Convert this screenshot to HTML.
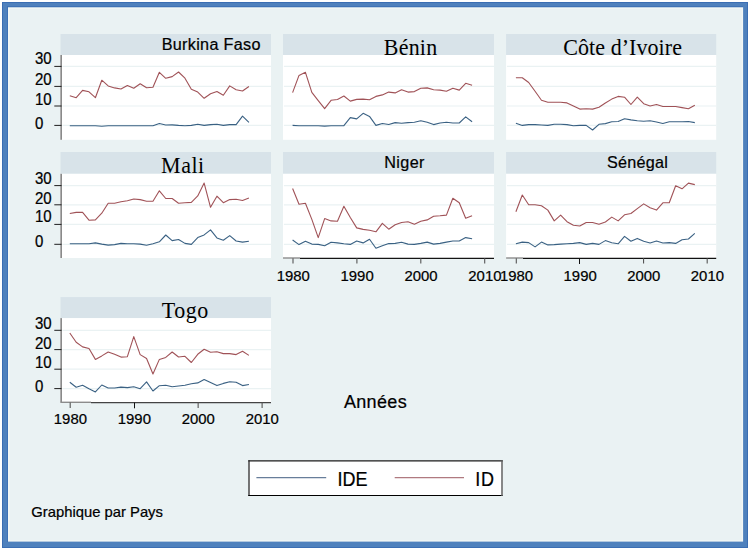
<!DOCTYPE html>
<html><head><meta charset="utf-8"><title>Graphique par Pays</title>
<style>
html,body{margin:0;padding:0;background:#fff;}
body{width:750px;height:550px;overflow:hidden;position:relative;}
svg{position:absolute;left:0;top:0;display:block;}
text{fill:#000;stroke:#000;stroke-width:0.22px;}
.ts,.sn,.dg{font-family:"Liberation Sans",sans-serif;}
.tr{font-family:"Liberation Serif",serif;stroke:none;}
</style></head>
<body>
<svg width="750" height="550" viewBox="0 0 750 550">
<rect x="0" y="0" width="750" height="550" fill="#fff"/>
<rect x="2" y="2" width="746" height="546" fill="#4f81bd"/>
<rect x="2.5" y="2.5" width="745" height="545" fill="none" stroke="#3b6eb3" stroke-width="1"/>
<line x1="7.5" x2="7.5" y1="6" y2="542" stroke="#3f72b6" stroke-width="1"/>
<line x1="7" x2="743" y1="6.6" y2="6.6" stroke="#3f72b6" stroke-width="1"/>
<rect x="8" y="7.3" width="735.1" height="534.3" fill="#f3f7f6"/>
<rect x="9.6" y="8.8" width="732.2" height="531.6" fill="#eaf2f3"/>
<rect x="60.5" y="34" width="210.5" height="21" fill="#d8e3e9"/>
<rect x="60.5" y="55" width="210.5" height="84.8" fill="#fff"/>
<line x1="62.5" x2="271" y1="66.4" y2="66.4" stroke="#eaf2f3" stroke-width="1.2"/>
<line x1="62.5" x2="271" y1="86.4" y2="86.4" stroke="#eaf2f3" stroke-width="1.2"/>
<line x1="62.5" x2="271" y1="106" y2="106" stroke="#eaf2f3" stroke-width="1.2"/>
<line x1="62.5" x2="271" y1="125.4" y2="125.4" stroke="#eaf2f3" stroke-width="1.2"/>
<rect x="283" y="34" width="211" height="21" fill="#d8e3e9"/>
<rect x="283" y="55" width="211" height="84.8" fill="#fff"/>
<line x1="283.9" x2="494" y1="66.4" y2="66.4" stroke="#eaf2f3" stroke-width="1.2"/>
<line x1="283.9" x2="494" y1="86.4" y2="86.4" stroke="#eaf2f3" stroke-width="1.2"/>
<line x1="283.9" x2="494" y1="106" y2="106" stroke="#eaf2f3" stroke-width="1.2"/>
<line x1="283.9" x2="494" y1="125.4" y2="125.4" stroke="#eaf2f3" stroke-width="1.2"/>
<rect x="506.1" y="34" width="210.1" height="21" fill="#d8e3e9"/>
<rect x="506.1" y="55" width="210.1" height="84.8" fill="#fff"/>
<line x1="507" x2="716.2" y1="66.4" y2="66.4" stroke="#eaf2f3" stroke-width="1.2"/>
<line x1="507" x2="716.2" y1="86.4" y2="86.4" stroke="#eaf2f3" stroke-width="1.2"/>
<line x1="507" x2="716.2" y1="106" y2="106" stroke="#eaf2f3" stroke-width="1.2"/>
<line x1="507" x2="716.2" y1="125.4" y2="125.4" stroke="#eaf2f3" stroke-width="1.2"/>
<rect x="60.5" y="152" width="210.5" height="21.8" fill="#d8e3e9"/>
<rect x="60.5" y="173.8" width="210.5" height="84.2" fill="#fff"/>
<line x1="62.5" x2="271" y1="185.6" y2="185.6" stroke="#eaf2f3" stroke-width="1.2"/>
<line x1="62.5" x2="271" y1="204.8" y2="204.8" stroke="#eaf2f3" stroke-width="1.2"/>
<line x1="62.5" x2="271" y1="224.4" y2="224.4" stroke="#eaf2f3" stroke-width="1.2"/>
<line x1="62.5" x2="271" y1="244.3" y2="244.3" stroke="#eaf2f3" stroke-width="1.2"/>
<rect x="283" y="152" width="211" height="21.8" fill="#d8e3e9"/>
<rect x="283" y="173.8" width="211" height="84.2" fill="#fff"/>
<line x1="283.9" x2="494" y1="185.6" y2="185.6" stroke="#eaf2f3" stroke-width="1.2"/>
<line x1="283.9" x2="494" y1="204.8" y2="204.8" stroke="#eaf2f3" stroke-width="1.2"/>
<line x1="283.9" x2="494" y1="224.4" y2="224.4" stroke="#eaf2f3" stroke-width="1.2"/>
<line x1="283.9" x2="494" y1="244.3" y2="244.3" stroke="#eaf2f3" stroke-width="1.2"/>
<rect x="506.1" y="152" width="210.1" height="21.8" fill="#d8e3e9"/>
<rect x="506.1" y="173.8" width="210.1" height="84.2" fill="#fff"/>
<line x1="507" x2="716.2" y1="185.6" y2="185.6" stroke="#eaf2f3" stroke-width="1.2"/>
<line x1="507" x2="716.2" y1="204.8" y2="204.8" stroke="#eaf2f3" stroke-width="1.2"/>
<line x1="507" x2="716.2" y1="224.4" y2="224.4" stroke="#eaf2f3" stroke-width="1.2"/>
<line x1="507" x2="716.2" y1="244.3" y2="244.3" stroke="#eaf2f3" stroke-width="1.2"/>
<rect x="60.5" y="297.1" width="210.5" height="21" fill="#d8e3e9"/>
<rect x="60.5" y="318.1" width="210.5" height="84.4" fill="#fff"/>
<line x1="62.5" x2="271" y1="330.3" y2="330.3" stroke="#eaf2f3" stroke-width="1.2"/>
<line x1="62.5" x2="271" y1="349.6" y2="349.6" stroke="#eaf2f3" stroke-width="1.2"/>
<line x1="62.5" x2="271" y1="369.2" y2="369.2" stroke="#eaf2f3" stroke-width="1.2"/>
<line x1="62.5" x2="271" y1="388.6" y2="388.6" stroke="#eaf2f3" stroke-width="1.2"/>
<polyline points="69.8,125.7 76.2,125.7 82.59,125.7 88.99,125.7 95.39,125.7 101.78,126.3 108.18,125.7 114.58,125.7 120.98,125.7 127.37,125.7 133.77,125.7 140.17,125.7 146.56,125.7 152.96,125.7 159.36,123.5 165.75,125 172.15,124.9 178.55,125.4 184.95,125.7 191.34,125.4 197.74,124.3 204.14,125.4 210.53,124.6 216.93,124.3 223.33,125.4 229.73,124.6 236.12,124.6 242.52,116.1 248.92,122.3" fill="none" stroke="#1a476f" stroke-width="1.1" stroke-linejoin="round" stroke-opacity="0.86"/>
<polyline points="69.8,95.7 76.2,97.7 82.59,90.4 88.99,91.8 95.39,97.7 101.78,80.2 108.18,85.9 114.58,87.9 120.98,89 127.37,85.5 133.77,88.2 140.17,83.8 146.56,87.8 152.96,87.2 159.36,72.3 165.75,78.3 172.15,76.6 178.55,72 184.95,78.2 191.34,89.3 197.74,92.1 204.14,98.3 210.53,93.7 216.93,91.5 223.33,95.2 229.73,85.9 236.12,89.8 242.52,91 248.92,86.5" fill="none" stroke="#90353b" stroke-width="1.1" stroke-linejoin="round" stroke-opacity="0.86"/>
<text class="ts" transform="translate(161.7 50.2) scale(1 0.99)" style="font-size:16.2px;letter-spacing:0.3px;">Burkina Faso</text>
<line x1="60.5" x2="60.5" y1="55" y2="139.8" stroke="#b4b4b4" stroke-width="1"/>
<line x1="61.4" x2="61.4" y1="55" y2="139.8" stroke="#7d7d7d" stroke-width="1"/>
<line x1="54.3" x2="61.5" y1="66.4" y2="66.4" stroke="#1e1e1e" stroke-width="1"/>
<text class="dg" transform="translate(34.9 64.4) scale(1 1.04)" style="font-size:15.0px;">30</text>
<line x1="54.3" x2="61.5" y1="86.4" y2="86.4" stroke="#1e1e1e" stroke-width="1"/>
<text class="dg" transform="translate(34.9 85.2) scale(1 1.04)" style="font-size:15.0px;">20</text>
<line x1="54.3" x2="61.5" y1="106" y2="106" stroke="#1e1e1e" stroke-width="1"/>
<text class="dg" transform="translate(34.9 104.7) scale(1 1.04)" style="font-size:15.0px;">10</text>
<line x1="54.3" x2="61.5" y1="125.4" y2="125.4" stroke="#1e1e1e" stroke-width="1"/>
<text class="dg" transform="translate(34.9 129.2) scale(1 1.04)" style="font-size:15.0px;">0</text>
<polyline points="292.6,125.4 299.01,125.7 305.42,125.7 311.83,125.7 318.24,125.7 324.65,126.1 331.06,125.7 337.47,125.7 343.88,125.7 350.29,117.6 356.7,118.9 363.11,113.3 369.52,116.4 375.93,125.4 382.34,123.5 388.75,124.5 395.16,122.6 401.57,123.3 407.98,122.6 414.39,122.3 420.8,120.7 427.21,122.3 433.62,124.6 440.03,123 446.44,122.3 452.85,123 459.26,123 465.67,116.9 472.08,121.8" fill="none" stroke="#1a476f" stroke-width="1.1" stroke-linejoin="round" stroke-opacity="0.86"/>
<polyline points="292.6,92.6 299.01,75.4 305.42,72.3 311.83,92.4 318.24,100.6 324.65,108.7 331.06,100.3 337.47,99.5 343.88,96 350.29,101.1 356.7,99.4 363.11,99.1 369.52,99.8 375.93,96.4 382.34,94.9 388.75,92.1 395.16,92.9 401.57,89.8 407.98,92.1 414.39,91.6 420.8,88.2 427.21,87.9 433.62,89.8 440.03,90.1 446.44,91.3 452.85,88.2 459.26,90.1 465.67,83.3 472.08,85.2" fill="none" stroke="#90353b" stroke-width="1.1" stroke-linejoin="round" stroke-opacity="0.86"/>
<text class="tr" transform="translate(383.8 54.5) scale(1 1.057)" style="font-size:22px;letter-spacing:0.2px;">Bénin</text>
<polyline points="515.9,123.3 522.29,125.4 528.68,124.6 535.07,124.6 541.46,125 547.85,125.4 554.24,124.3 560.63,124.3 567.02,124.6 573.41,125.7 579.8,125.4 586.19,125.4 592.58,130 598.97,124.3 605.36,123.6 611.75,121.8 618.14,121.5 624.53,118.7 630.92,119.9 637.31,120.7 643.7,121.2 650.09,120.7 656.48,122 662.87,123.5 669.26,121.8 675.65,121.8 682.04,121.8 688.43,121.5 694.82,122.6" fill="none" stroke="#1a476f" stroke-width="1.1" stroke-linejoin="round" stroke-opacity="0.86"/>
<polyline points="515.9,77.7 522.29,77.7 528.68,82.5 535.07,91.3 541.46,100.2 547.85,102.2 554.24,102.2 560.63,102.2 567.02,102.9 573.41,106 579.8,109.1 586.19,108.7 592.58,109.1 598.97,107.3 605.36,103 611.75,99.1 618.14,96.4 624.53,97.2 630.92,104.5 637.31,97.1 643.7,103.7 650.09,106 656.48,104.5 662.87,106.5 669.26,106.5 675.65,106.5 682.04,107.6 688.43,108.8 694.82,105.3" fill="none" stroke="#90353b" stroke-width="1.1" stroke-linejoin="round" stroke-opacity="0.86"/>
<text class="tr" transform="translate(563.3 54.8) scale(1 1.03)" style="font-size:22px;letter-spacing:0.06px;">Côte d’Ivoire</text>
<polyline points="69.8,243.8 76.2,243.8 82.59,243.8 88.99,243.8 95.39,242.9 101.78,244.1 108.18,245.1 114.58,244.6 120.98,243.4 127.37,243.8 133.77,243.8 140.17,244.1 146.56,245.2 152.96,243.7 159.36,241.8 165.75,235 172.15,240.6 178.55,239.5 184.95,243.4 191.34,244.4 197.74,237.6 204.14,234.9 210.53,229.9 216.93,237.9 223.33,240.3 229.73,235.6 236.12,241 242.52,242.1 248.92,241.3" fill="none" stroke="#1a476f" stroke-width="1.1" stroke-linejoin="round" stroke-opacity="0.86"/>
<polyline points="69.8,213.5 76.2,212.4 82.59,212.4 88.99,220.2 95.39,219.9 101.78,213.2 108.18,203.2 114.58,203.2 120.98,201.8 127.37,200.8 133.77,199 140.17,199.6 146.56,201.3 152.96,201.3 159.36,190.8 165.75,198.5 172.15,198.5 178.55,203.2 184.95,202.8 191.34,202.4 197.74,195.9 204.14,183.1 210.53,207.3 216.93,196.2 223.33,202.7 229.73,199.6 236.12,199.3 242.52,200.5 248.92,198.1" fill="none" stroke="#90353b" stroke-width="1.1" stroke-linejoin="round" stroke-opacity="0.86"/>
<text class="tr" transform="translate(161.1 173) scale(1 1.09)" style="font-size:22px;letter-spacing:0.5px;">Mali</text>
<line x1="60.5" x2="60.5" y1="173.8" y2="258" stroke="#b4b4b4" stroke-width="1"/>
<line x1="61.4" x2="61.4" y1="173.8" y2="258" stroke="#7d7d7d" stroke-width="1"/>
<line x1="54.3" x2="61.5" y1="185.6" y2="185.6" stroke="#1e1e1e" stroke-width="1"/>
<text class="dg" transform="translate(34.9 183.9) scale(1 1.04)" style="font-size:15.0px;">30</text>
<line x1="54.3" x2="61.5" y1="204.8" y2="204.8" stroke="#1e1e1e" stroke-width="1"/>
<text class="dg" transform="translate(34.9 203.9) scale(1 1.04)" style="font-size:15.0px;">20</text>
<line x1="54.3" x2="61.5" y1="224.4" y2="224.4" stroke="#1e1e1e" stroke-width="1"/>
<text class="dg" transform="translate(34.9 222.1) scale(1 1.04)" style="font-size:15.0px;">10</text>
<line x1="54.3" x2="61.5" y1="244.3" y2="244.3" stroke="#1e1e1e" stroke-width="1"/>
<text class="dg" transform="translate(34.9 247.4) scale(1 1.04)" style="font-size:15.0px;">0</text>
<polyline points="292.6,240 299.01,244.6 305.42,241.3 311.83,244.1 318.24,244.4 324.65,245.7 331.06,242.3 337.47,242.9 343.88,243.8 350.29,244.4 356.7,241 363.11,242.9 369.52,239.2 375.93,248.3 382.34,245.8 388.75,243.6 395.16,243.4 401.57,242.3 407.98,244.1 414.39,244.4 420.8,243.4 427.21,242.1 433.62,244.1 440.03,243.4 446.44,242.1 452.85,241 459.26,241 465.67,237.6 472.08,238.7" fill="none" stroke="#1a476f" stroke-width="1.1" stroke-linejoin="round" stroke-opacity="0.86"/>
<polyline points="292.6,188.5 299.01,204.2 305.42,203.2 311.83,219.4 318.24,237.6 324.65,218.6 331.06,220.9 337.47,221.2 343.88,206.2 350.29,217.5 356.7,227.9 363.11,229.4 369.52,230.2 375.93,231.8 382.34,223.3 388.75,229.2 395.16,224.8 401.57,222.5 407.98,221.7 414.39,224.3 420.8,221.2 427.21,219.9 433.62,216.3 440.03,215.8 446.44,215.1 452.85,198.2 459.26,202.8 465.67,218.2 472.08,215.8" fill="none" stroke="#90353b" stroke-width="1.1" stroke-linejoin="round" stroke-opacity="0.86"/>
<text class="ts" transform="translate(384.3 168)" style="font-size:16.2px;letter-spacing:0.37px;">Niger</text>
<line x1="283" x2="300" y1="258" y2="258" stroke="#8c8c8c" stroke-width="1.4"/>
<line x1="300" x2="494" y1="258.3" y2="258.3" stroke="#141414" stroke-width="1.2"/>
<line x1="293" x2="293" y1="258.3" y2="263.6" stroke="#555" stroke-width="1.1"/>
<text class="dg" transform="translate(293.2 280.5) scale(1 1.04)" style="font-size:14.9px;" text-anchor="middle">1980</text>
<line x1="356.9" x2="356.9" y1="258.3" y2="263.6" stroke="#555" stroke-width="1.1"/>
<text class="dg" transform="translate(357.1 280.5) scale(1 1.04)" style="font-size:14.9px;" text-anchor="middle">1990</text>
<line x1="420.8" x2="420.8" y1="258.3" y2="263.6" stroke="#555" stroke-width="1.1"/>
<text class="dg" transform="translate(421 280.5) scale(1 1.04)" style="font-size:14.9px;" text-anchor="middle">2000</text>
<line x1="484.7" x2="484.7" y1="258.3" y2="263.6" stroke="#555" stroke-width="1.1"/>
<text class="dg" transform="translate(484.9 280.5) scale(1 1.04)" style="font-size:14.9px;" text-anchor="middle">2010</text>
<polyline points="515.9,243.7 522.29,242.1 528.68,242.6 535.07,246.9 541.46,242.1 547.85,244.9 554.24,244.6 560.63,244.1 567.02,243.8 573.41,243.4 579.8,242.6 586.19,244.4 592.58,243.4 598.97,244.4 605.36,240.6 611.75,242.8 618.14,243.8 624.53,236.4 630.92,241.3 637.31,238.4 643.7,241.3 650.09,243 656.48,241 662.87,243 669.26,242.6 675.65,243.4 682.04,239.8 688.43,239 694.82,233.3" fill="none" stroke="#1a476f" stroke-width="1.1" stroke-linejoin="round" stroke-opacity="0.86"/>
<polyline points="515.9,211.7 522.29,195 528.68,204.7 535.07,204.7 541.46,205.8 547.85,210.1 554.24,220.9 560.63,215.1 567.02,221.7 573.41,225.3 579.8,226 586.19,222.5 592.58,222.5 598.97,224.3 605.36,222 611.75,217.1 618.14,220.9 624.53,214.8 630.92,213.5 637.31,208.6 643.7,203.9 650.09,207.8 656.48,210.1 662.87,202.8 669.26,202.8 675.65,185.7 682.04,188.8 688.43,183.1 694.82,184.6" fill="none" stroke="#90353b" stroke-width="1.1" stroke-linejoin="round" stroke-opacity="0.86"/>
<text class="ts" transform="translate(607 167.7)" style="font-size:16.2px;letter-spacing:0.25px;">Sénégal</text>
<line x1="506.1" x2="523" y1="258" y2="258" stroke="#8c8c8c" stroke-width="1.4"/>
<line x1="523" x2="716.2" y1="258.3" y2="258.3" stroke="#111" stroke-width="1.2"/>
<line x1="516.3" x2="516.3" y1="258.3" y2="263.6" stroke="#555" stroke-width="1.1"/>
<text class="dg" transform="translate(516.5 280.5) scale(1 1.04)" style="font-size:14.9px;" text-anchor="middle">1980</text>
<line x1="579.5" x2="579.5" y1="258.3" y2="264" stroke="#111" stroke-width="1"/>
<text class="dg" transform="translate(580.13 280.5) scale(1 1.04)" style="font-size:14.9px;" text-anchor="middle">1990</text>
<line x1="643.56" x2="643.56" y1="258.3" y2="263.6" stroke="#555" stroke-width="1.1"/>
<text class="dg" transform="translate(643.76 280.5) scale(1 1.04)" style="font-size:14.9px;" text-anchor="middle">2000</text>
<line x1="707.19" x2="707.19" y1="258.3" y2="263.6" stroke="#555" stroke-width="1.1"/>
<text class="dg" transform="translate(707.39 280.5) scale(1 1.04)" style="font-size:14.9px;" text-anchor="middle">2010</text>
<polyline points="69.8,382.2 76.2,387.3 82.59,385.3 88.99,388.8 95.39,391.9 101.78,385 108.18,388 114.58,388 120.98,387.1 127.37,387.6 133.77,386.8 140.17,388.7 146.56,381.9 152.96,391 159.36,385.7 165.75,385.3 172.15,386.8 178.55,386 184.95,385.3 191.34,383.7 197.74,382.9 204.14,379.5 210.53,382.6 216.93,385.6 223.33,383.4 229.73,381.7 236.12,382.2 242.52,385.6 248.92,384.5" fill="none" stroke="#1a476f" stroke-width="1.1" stroke-linejoin="round" stroke-opacity="0.86"/>
<polyline points="69.8,333 76.2,342.3 82.59,346.9 88.99,348.5 95.39,359.4 101.78,355.9 108.18,352 114.58,354.3 120.98,357.1 127.37,356.7 133.77,336.6 140.17,354.6 146.56,358.5 152.96,374 159.36,359.4 165.75,357.4 172.15,352 178.55,357 184.95,356.3 191.34,362.5 197.74,354.3 204.14,349.2 210.53,352.3 216.93,351.7 223.33,353.6 229.73,353.6 236.12,354.6 242.52,351.2 248.92,355.4" fill="none" stroke="#90353b" stroke-width="1.1" stroke-linejoin="round" stroke-opacity="0.86"/>
<text class="tr" transform="translate(161.8 318.3) scale(1 1.09)" style="font-size:22px;letter-spacing:0.5px;">Togo</text>
<line x1="60.5" x2="60.5" y1="318.1" y2="402.5" stroke="#b4b4b4" stroke-width="1"/>
<line x1="61.4" x2="61.4" y1="318.1" y2="402.5" stroke="#7d7d7d" stroke-width="1"/>
<line x1="54.3" x2="61.5" y1="330.3" y2="330.3" stroke="#1e1e1e" stroke-width="1"/>
<text class="dg" transform="translate(34.9 328.9) scale(1 1.04)" style="font-size:15.0px;">30</text>
<line x1="54.3" x2="61.5" y1="349.6" y2="349.6" stroke="#1e1e1e" stroke-width="1"/>
<text class="dg" transform="translate(34.9 348.9) scale(1 1.04)" style="font-size:15.0px;">20</text>
<line x1="54.3" x2="61.5" y1="369.2" y2="369.2" stroke="#1e1e1e" stroke-width="1"/>
<text class="dg" transform="translate(34.9 368) scale(1 1.04)" style="font-size:15.0px;">10</text>
<line x1="54.3" x2="61.5" y1="388.6" y2="388.6" stroke="#1e1e1e" stroke-width="1"/>
<text class="dg" transform="translate(34.9 392.4) scale(1 1.04)" style="font-size:15.0px;">0</text>
<line x1="60.5" x2="91" y1="402.3" y2="402.3" stroke="#8c8c8c" stroke-width="1.4"/>
<line x1="91" x2="271" y1="402.6" y2="402.6" stroke="#444" stroke-width="1.2"/>
<line x1="70.2" x2="70.2" y1="402.6" y2="407.9" stroke="#555" stroke-width="1.1"/>
<text class="dg" transform="translate(70.4 424.4) scale(1 1.04)" style="font-size:14.9px;" text-anchor="middle">1980</text>
<line x1="134.5" x2="134.5" y1="402.6" y2="408.3" stroke="#111" stroke-width="1"/>
<text class="dg" transform="translate(134.37 424.4) scale(1 1.04)" style="font-size:14.9px;" text-anchor="middle">1990</text>
<line x1="198.14" x2="198.14" y1="402.6" y2="407.9" stroke="#555" stroke-width="1.1"/>
<text class="dg" transform="translate(198.34 424.4) scale(1 1.04)" style="font-size:14.9px;" text-anchor="middle">2000</text>
<line x1="262.11" x2="262.11" y1="402.6" y2="407.9" stroke="#555" stroke-width="1.1"/>
<text class="dg" transform="translate(262.31 424.4) scale(1 1.04)" style="font-size:14.9px;" text-anchor="middle">2010</text>
<text class="sn" transform="translate(343.9 408.1) scale(1 1.056)" style="font-size:18px;letter-spacing:0.36px;">Années</text>
<rect x="248.5" y="460.5" width="254" height="35" fill="#fff"/>
<line x1="248.3" x2="502.8" y1="460.9" y2="460.9" stroke="#1a1a1a" stroke-width="1.2"/>
<line x1="249" x2="249" y1="460.3" y2="496" stroke="#2a2a2a" stroke-width="1.3"/>
<line x1="248.3" x2="502.8" y1="495.5" y2="495.5" stroke="#000" stroke-width="1"/>
<line x1="502" x2="502" y1="460.3" y2="496" stroke="#606060" stroke-width="1.5"/>
<line x1="256.4" x2="326.2" y1="477.5" y2="477.5" stroke="#687e9a" stroke-width="1.25"/>
<line x1="394.7" x2="464" y1="477.5" y2="477.5" stroke="#b07a80" stroke-width="1.25"/>
<text class="sn" transform="translate(337.6 485.7) scale(1 1.09)" style="font-size:18px;">IDE</text>
<text class="sn" transform="translate(475.2 485.7) scale(1 1.09)" style="font-size:18px;letter-spacing:0.9px;">ID</text>
<text class="sn" transform="translate(31.3 516.5)" style="font-size:14.8px;">Graphique par Pays</text>
</svg>
</body></html>
